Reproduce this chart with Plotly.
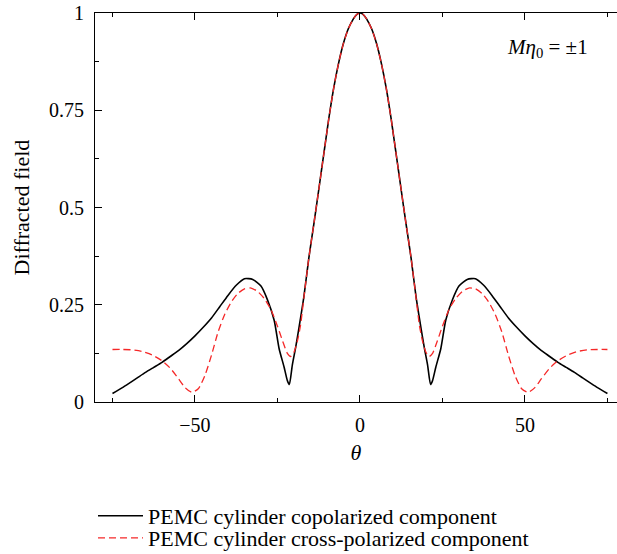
import plotly.graph_objects as go

# Copolarized component (black, solid)
theta_co_left = [-75, -72, -70, -67.5, -65, -62.5, -60, -57.5, -55, -52.5, -50, -47.5, -45,
                 -42.5, -40, -37.5, -35, -32.5, -30, -28, -26, -24.5, -23, -22, -21.4, -20.5,
                 -19.5, -18.5, -17, -15.5, -14, -12.5, -11, -9.5, -8, -6.5, -5, -3.5, -2, -1]
co_left = [0.022, 0.037, 0.048, 0.062, 0.076, 0.089, 0.102, 0.117, 0.132, 0.150, 0.170, 0.192,
           0.216, 0.245, 0.274, 0.300, 0.317, 0.315, 0.298, 0.262, 0.210, 0.137, 0.090, 0.055,
           0.045, 0.095, 0.140, 0.190, 0.270, 0.370, 0.456, 0.545, 0.635, 0.725, 0.805, 0.870,
           0.922, 0.960, 0.985, 0.996]
theta_co = theta_co_left + [0] + [-t for t in reversed(theta_co_left)]
co_vals = co_left + [1.0] + list(reversed(co_left))

# Cross-polarized component (red, dashed)
theta_cx_left = [-75, -72, -69, -66, -63, -60, -57.5, -55, -53, -51, -49, -47, -45, -43, -41,
                 -39, -37, -35, -33, -31, -29, -27, -25, -23.5, -22, -21, -20, -19, -18, -17,
                 -15.5, -14, -12.5, -11, -9.5, -8, -6.5, -5, -3.5, -2, -1]
cx_left = [0.135, 0.135, 0.134, 0.130, 0.121, 0.106, 0.087, 0.060, 0.037, 0.025, 0.034, 0.068,
           0.120, 0.180, 0.225, 0.257, 0.279, 0.291, 0.293, 0.284, 0.266, 0.238, 0.195, 0.158,
           0.125, 0.117, 0.128, 0.155, 0.198, 0.268, 0.370, 0.456, 0.545, 0.635, 0.725, 0.805,
           0.870, 0.922, 0.960, 0.985, 0.996]
theta_cx = theta_cx_left + [0] + [-t for t in reversed(theta_cx_left)]
cx_vals = cx_left + [1.0] + list(reversed(cx_left))

series_names = ["PEMC cylinder copolarized component",
                "PEMC cylinder cross-polarized component"]
y_ticks = [0, 0.25, 0.5, 0.75, 1]
y_ticklabels = ["0", "0.25", "0.5", "0.75", "1"]
x_ticks = [-50, 0, 50]
x_ticklabels = ["\u221250", "0", "50"]

FONT = "Liberation Serif"
W, H = 617, 554
L, T, B = 95, 13, 152
PW, PH = W - L, H - T - B

fig = go.Figure()
fig.add_trace(go.Scatter(x=theta_co, y=co_vals, mode="lines", name=series_names[0],
                         legend="legend",
                         line=dict(color="black", width=1.6, shape="spline", smoothing=0.6)))
fig.add_trace(go.Scatter(x=theta_cx, y=cx_vals, mode="lines", name=series_names[1],
                         legend="legend2",
                         line=dict(color="rgb(245,40,40)", width=1.3, dash="7px,4px",
                                   shape="spline", smoothing=0.6)))

leg_common = dict(xref="container", yref="container", xanchor="left", yanchor="middle",
                  font=dict(family=FONT, size=22, color="black"),
                  bgcolor="rgba(0,0,0,0)", itemwidth=45)

fig.update_layout(
    width=W, height=H,
    margin=dict(l=L, r=0, t=T, b=B, autoexpand=False),
    paper_bgcolor="white", plot_bgcolor="white",
    font=dict(family=FONT, size=20, color="black"),
    showlegend=True,
    legend=dict(x=93 / W, y=1 - 516 / H, **leg_common),
    legend2=dict(x=93 / W, y=1 - 538 / H, **leg_common),
    xaxis=dict(range=[-80.3, 77.9], tickvals=x_ticks, ticktext=x_ticklabels,
               ticks="inside", ticklen=7, tickwidth=1, tickcolor="black",
               showline=True, linecolor="black", linewidth=1.2, mirror="ticks",
               showgrid=False, zeroline=False, automargin=True,
               tickfont=dict(family=FONT, size=20), ticklabelstandoff=5,
               minor=dict(tickvals=[-75, -25, 25, 75], ticks="inside", ticklen=4,
                          tickcolor="black", showgrid=False),
               title=dict(text="<i>\u03b8</i>", font=dict(family=FONT, size=22), standoff=9)),
    yaxis=dict(range=[0, 1], tickvals=y_ticks, ticktext=y_ticklabels,
               ticks="inside", ticklen=7, tickwidth=1, tickcolor="black",
               showline=True, linecolor="black", linewidth=1.2, mirror=False,
               showgrid=False, zeroline=False, automargin=True,
               tickfont=dict(family=FONT, size=20), ticklabelstandoff=6,
               minor=dict(tickvals=[0.125, 0.375, 0.625, 0.875], ticks="inside", ticklen=4,
                          tickcolor="black", showgrid=False)),
)

# y-axis title
fig.add_annotation(x=(21 - L) / PW, y=0.5, xref="paper", yref="paper",
                   xanchor="center", yanchor="middle", textangle=-90,
                   text="Diffracted field", showarrow=False,
                   font=dict(family=FONT, size=22, color="black"))

fig.add_annotation(x=(590 - L) / PW, y=(H - B - 48) / PH, xref="paper", yref="paper",
                   xanchor="right", yanchor="middle",
                   text="<i>M\u03b7</i><sub>0</sub> = \u00b11", showarrow=False,
                   font=dict(family=FONT, size=21, color="black"))

fig.write_html("out.html", config={"displayModeBar": False},
               post_script="document.body.style.margin='0';")
